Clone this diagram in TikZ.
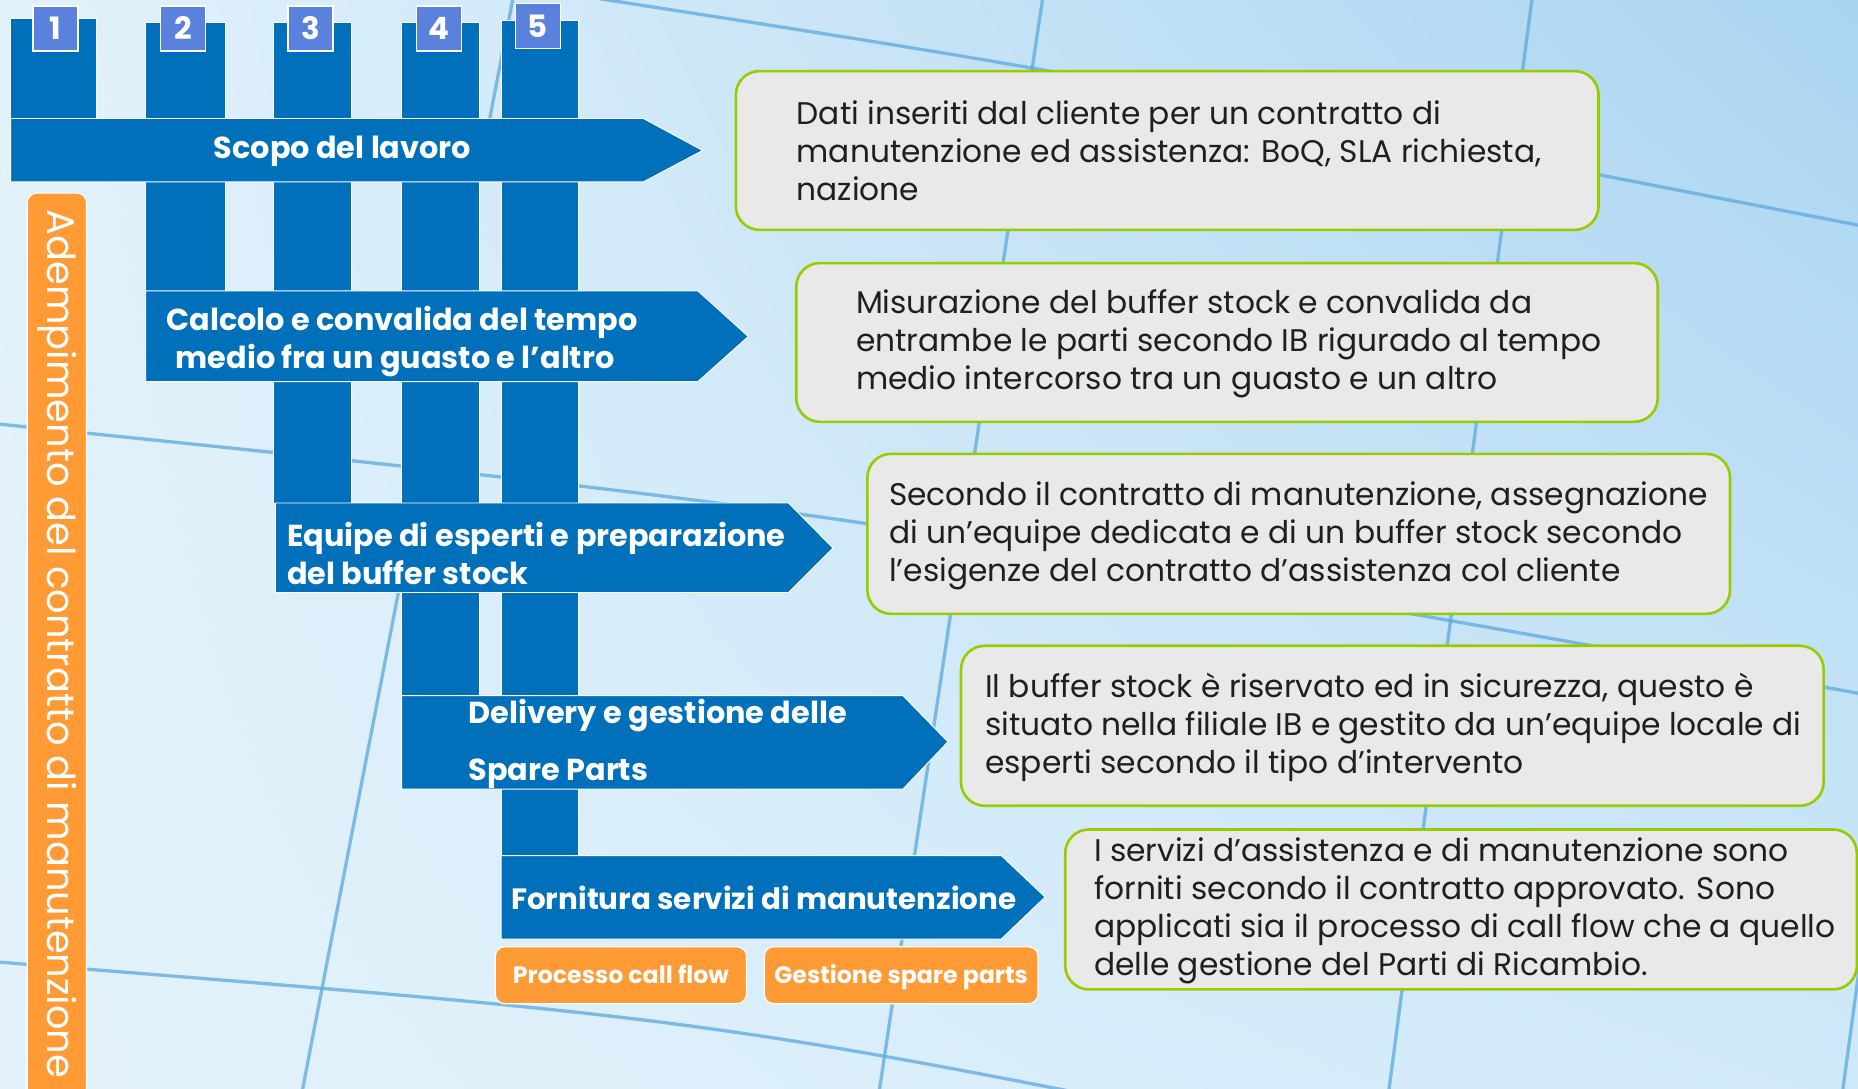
\documentclass[tikz,border=0pt]{standalone}
\usepackage{fontspec}
\setmainfont{Poppins}
\usepackage{tikz}
\usetikzlibrary{shadings}

\definecolor{barblue}{HTML}{0070BA}
\definecolor{tabblue}{HTML}{5A82DC}
\definecolor{pumpkin}{HTML}{FF9A35}
\definecolor{boxgrey}{HTML}{E9E9E9}
\definecolor{limeline}{HTML}{99CC00}
\definecolor{gridline}{HTML}{5CA9E0}
\definecolor{skyUL}{HTML}{E2F2FB}
\definecolor{skyUR}{HTML}{AAD4F1}
\definecolor{skyLL}{HTML}{E4F3FB}
\definecolor{skyLR}{HTML}{D0E9F9}

\tikzset{
  font={\fontsize{13.2pt}{16pt}\selectfont},
  steptext/.style={text=white, align=left, font={\bfseries\fontsize{12.8pt}{16pt}\selectfont}},
  desctext/.style={text=black!88, align=left, anchor=west},
  descbox/.style={fill=boxgrey, draw=limeline, line width=1.1pt, rounded corners=10pt},
  stepbar/.style={fill=barblue, draw=white, line width=0.4pt},
  numtab/.style={fill=tabblue, draw=white, line width=0.6pt, text=white,
    minimum width=19pt, minimum height=19pt, font={\bfseries\fontsize{13pt}{13pt}\selectfont}},
  orangebox/.style={fill=pumpkin, draw=white, line width=0.5pt, rounded corners=4pt},
  subtext/.style={text=white, anchor=base, font={\bfseries\fontsize{10pt}{10pt}\selectfont}},
  gridstroke/.style={draw=gridline, line width=1.4pt, opacity=0.75}}

\begin{document}
\begin{tikzpicture}[x=0.5pt,y=-0.5pt]
\tikzstyle{every node}+=[inner sep=0pt]
\useasboundingbox (0,0) rectangle (1568,919);
\clip (0,0) rectangle (1568,919);
% background
\shade [upper left=skyUL, upper right=skyUR, lower left=skyLL, lower right=skyLR]
  (0,0) rectangle (1568,919);
\draw [gridstroke] (500,-2) .. controls (900,60) .. (1568,190);
\draw [gridstroke] (0,358) .. controls (700,430) .. (1568,585);
\draw [gridstroke] (0,812) .. controls (600,860) .. (1100,960);
\draw [gridstroke] (880,-2) -- (742,921);
\draw [gridstroke] (1293,-2) -- (1172,921);
\draw [gridstroke] (433,-2) -- (255,921);
\draw [gridstroke] (1680,0) -- (1555,921);
% columns
\fill [stepbar] (9,16) rectangle (81,100);
\fill [stepbar] (123,19) rectangle (190,246);
\fill [stepbar] (231,19) rectangle (297,425);
\fill [stepbar] (339,19) rectangle (405,587);
\fill [stepbar] (423,17) rectangle (488,722);
% number tabs
\draw (47,24) node [numtab] (tab1) {1};
\draw (154.5,24) node [numtab] (tab2) {2};
\draw (262,24) node [numtab] (tab3) {3};
\draw (370.5,24) node [numtab] (tab4) {4};
\draw (454,22) node [numtab] (tab5) {5};
% steps
\draw [stepbar] (9,100) -- (543,100) -- (593,127) -- (543,153.5) -- (9,153.5) -- cycle;
\draw (289,128) node [steptext] (scopo) {Scopo del lavoro};
\draw [stepbar] (123,245.5) -- (589,245.5) -- (631.5,284) -- (589,322) -- (123,322) -- cycle;
\draw (140,288) node [steptext, anchor=west] (calcolo) {Calcolo e convalida del tempo\\\hspace*{4pt}medio fra un guasto e l'altro};
\draw [stepbar] (232.5,424.5) -- (665.5,424.5) -- (703,462.5) -- (665.5,500) -- (232.5,500) -- cycle;
\draw (242,467) node [steptext, anchor=west] (equipe) {Equipe di esperti e preparazione\\del buffer stock};
\draw [stepbar] (339,587) -- (762,587) -- (800,626) -- (762,666) -- (339,666) -- cycle;
\draw (395,628) node [steptext, anchor=west, font={\bfseries\fontsize{12.8pt}{24pt}\selectfont}] (delivery) {Delivery e gestione delle\\Spare Parts};
\draw [stepbar] (423,722) -- (845,722) -- (882,757) -- (845,792.5) -- (423,792.5) -- cycle;
\draw (431,758) node [steptext, anchor=west, font={\bfseries\fontsize{12.4pt}{16pt}\selectfont}] (fornitura) {Fornitura servizi di manutenzione};
% sub boxes
\draw [orangebox] (418,799) rectangle (630,847);
\draw (524,830) node [subtext] (callflow) {Processo call flow};
\draw [orangebox] (645,799) rectangle (876,847);
\draw (760.5,830) node [subtext] (spare) {Gestione spare parts};
% side label
\draw [orangebox] (23,163) rectangle (73,935);
\draw (48,543.5) node [rotate=-90, text=white, font={\fontsize{16.2pt}{16pt}\selectfont}] (adempimento) {Adempimento del contratto di manutenzione};
% descriptions
\draw [descbox] (621,60) rectangle (1349,194);
\draw (672,127.5) node [desctext] (d1) {Dati inseriti dal cliente per un contratto di\\manutenzione ed assistenza: BoQ, SLA richiesta,\\nazione};
\draw [descbox] (672,222) rectangle (1399,356);
\draw (722,290) node [desctext] (d2) {Misurazione del buffer stock e convalida da\\entrambe le parti secondo IB rigurado al tempo\\medio intercorso tra un guasto e un altro};
\draw [descbox] (732,383) rectangle (1460,518);
\draw (750,452) node [desctext] (d3) {Secondo il contratto di manutenzione, assegnazione\\di un'equipe dedicata e di un buffer stock secondo\\l’esigenze del contratto d’assistenza col cliente};
\draw [descbox] (811,545) rectangle (1539,680);
\draw (831,614) node [desctext] (d4) {Il buffer stock è riservato ed in sicurezza, questo è\\situato nella filiale IB e gestito da un'equipe locale di\\esperti secondo il tipo d’intervento};
\draw [descbox] (899,700) rectangle (1567,835);
\draw (923,768.5) node [desctext] (d5) {I servizi d’assistenza e di manutenzione sono\\forniti secondo il contratto approvato. Sono\\applicati sia il processo di call flow che a quello\\delle gestione del Parti di Ricambio.};
\end{tikzpicture}
\end{document}
